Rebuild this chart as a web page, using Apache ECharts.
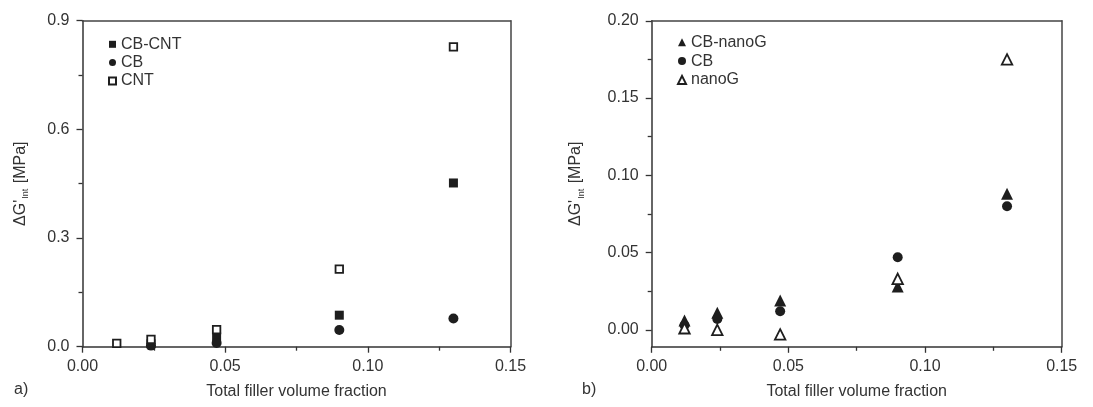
<!DOCTYPE html>
<html>
<head>
<meta charset="utf-8">
<script src="https://cdn.jsdelivr.net/npm/echarts@6/dist/echarts.min.js"></script>
<style>
  html, body { margin: 0; padding: 0; background: #fff; }
  #main { width: 1093px; height: 407px; }
</style>
</head>
<body>
<div id="main"></div>
<script>
// filler volume fractions (same for both panels)
const fractions = [0.012, 0.024, 0.047, 0.090, 0.130]

// a) CB-CNT panel, MPa
const cbCnt = [null, 0.008, 0.027, 0.087, 0.452]
const cbLeft = [null, 0.003, 0.010, 0.046, 0.078]
const cnt = [0.009, 0.020, 0.047, 0.214, 0.828]

// b) CB-nanoG panel, MPa
const cbNanoG = [0.006, 0.011, 0.019, 0.028, 0.088]
const cbRight = [0.003, 0.007, 0.012, 0.047, 0.080]
const nanoG = [0.001, 0.000, -0.003, 0.033, 0.175]

const yTicksRight = [0, 0.05, 0.10, 0.15, 0.20]
const yMinorRight = [0.025, 0.075, 0.125, 0.175]

const ink = '#1e1e1e'
const txt = '#333'

const pairs = (ys) => fractions.map((x, i) => [x, ys[i]]).filter(p => p[1] !== null)

const yName = {
    a: { fontSize: 16, color: txt, lineHeight: 20 },
    s: { fontSize: 9, color: txt, lineHeight: 20, verticalAlign: 'bottom', padding: [0, 1, 0, 1] }
}
const nameText = "{a|ΔG'}{s|Int}{a| [MPa]}"

const baseX = (grid, gapName) => ({
    type: 'value', gridIndex: grid, min: 0, max: 0.15, interval: 0.05,
    name: 'Total filler volume fraction', nameLocation: 'middle', nameGap: gapName,
    nameTextStyle: { fontSize: 16, color: txt },
    axisLine: { onZero: false, lineStyle: { color: '#333', width: 1.5 } },
    axisTick: { length: 6, lineStyle: { color: '#333', width: 1.3 } },
    minorTick: { show: true, splitNumber: 2, length: 4, lineStyle: { color: '#333', width: 1.3 } },
    axisLabel: { fontSize: 16, color: txt, margin: 12, formatter: v => v.toFixed(2) },
    splitLine: { show: false }
})

const frame = (kind, grid, pos) => ({
    type: 'value', gridIndex: grid, position: pos,
    min: kind === 'y' && grid === 1 ? -0.011 : 0,
    max: kind === 'x' ? 0.15 : (grid === 0 ? 0.9 : 0.2),
    axisLine: { show: true, onZero: false, lineStyle: { color: '#444', width: 1.5 } },
    axisTick: { show: false }, axisLabel: { show: false }, splitLine: { show: false }
})

const filled = { color: ink, opacity: 1 }
const hollow = { color: '#fff', borderColor: ink, borderWidth: 1.8, opacity: 1 }

const chart = echarts.init(document.getElementById('main'))
chart.setOption({
    animation: false,
    backgroundColor: '#fff',
    textStyle: { fontFamily: 'Liberation Sans, Arial, sans-serif' },
    grid: [
        { left: 82.5, top: 20.7, width: 428, height: 326 },
        { left: 651.7, top: 20.8, width: 410, height: 326 }
    ],
    legend: [
        {
            data: ['CB-CNT', 'CB', 'CNT'].map(n => ({ name: n })),
            orient: 'vertical', left: 103, top: 30.3, itemWidth: 7, itemHeight: 7,
            itemGap: 0.3, itemTextGap: 11,
            textStyle: { fontSize: 16, color: txt, lineHeight: 18 },
            selectedMode: false
        },
        {
            data: ['CB-nanoG', 'CB ', 'nanoG'].map(n => ({ name: n })),
            orient: 'vertical', left: 672, top: 28.3, itemWidth: 8, itemHeight: 8,
            itemGap: 0.8, itemTextGap: 7,
            textStyle: { fontSize: 16, color: txt, lineHeight: 18 },
            selectedMode: false
        }
    ],
    xAxis: [
        baseX(0, 37),
        baseX(1, 37),
        frame('x', 0, 'top'),
        frame('x', 1, 'top')
    ],
    yAxis: [
        {
            type: 'value', gridIndex: 0, min: 0, max: 0.9, interval: 0.3,
            name: nameText, nameLocation: 'middle', nameGap: 52, nameRotate: 90,
            nameTextStyle: { rich: yName },
            axisLine: { show: true, lineStyle: { color: '#333', width: 1.5 } },
            axisTick: { show: true, length: 6, lineStyle: { color: '#333', width: 1.3 } },
            minorTick: { show: true, splitNumber: 2, length: 4, lineStyle: { color: '#333', width: 1.3 } },
            axisLabel: { fontSize: 16, color: txt, margin: 13, formatter: v => v.toFixed(1) },
            splitLine: { show: false }
        },
        {
            type: 'value', gridIndex: 1, min: -0.011, max: 0.2,
            name: nameText, nameLocation: 'middle', nameGap: 66, nameRotate: 90,
            nameTextStyle: { rich: yName },
            axisLine: { show: true, onZero: false, lineStyle: { color: '#333', width: 1.5 } },
            axisTick: { show: true, length: 6, customValues: yTicksRight, lineStyle: { color: '#333', width: 1.3 } },
            axisLabel: { fontSize: 16, color: txt, margin: 13, customValues: yTicksRight, formatter: v => v.toFixed(2) },
            splitLine: { show: false }
        },
        frame('y', 0, 'right'),
        frame('y', 1, 'right'),
        {
            // minor ticks of panel b
            type: 'value', gridIndex: 1, min: -0.011, max: 0.2, position: 'left',
            axisLine: { show: false },
            axisTick: { show: true, length: 4, customValues: yMinorRight, lineStyle: { color: '#333', width: 1.3 } },
            axisLabel: { show: false }, splitLine: { show: false }
        }
    ],
    series: [
        { name: 'CB-CNT', type: 'scatter', xAxisIndex: 0, yAxisIndex: 0, symbol: 'rect', symbolSize: 9,
          itemStyle: filled, data: pairs(cbCnt) },
        { name: 'CB', type: 'scatter', xAxisIndex: 0, yAxisIndex: 0, symbol: 'circle', symbolSize: 10,
          itemStyle: filled, data: pairs(cbLeft) },
        { name: 'CNT', type: 'scatter', xAxisIndex: 0, yAxisIndex: 0, symbol: 'rect', symbolSize: 7.5,
          itemStyle: hollow, data: pairs(cnt) },
        { name: 'CB-nanoG', type: 'scatter', xAxisIndex: 1, yAxisIndex: 1, symbol: 'triangle', symbolSize: 12,
          itemStyle: filled, data: pairs(cbNanoG) },
        { name: 'CB ', type: 'scatter', xAxisIndex: 1, yAxisIndex: 1, symbol: 'circle', symbolSize: 10,
          itemStyle: filled, data: pairs(cbRight) },
        { name: 'nanoG', type: 'scatter', xAxisIndex: 1, yAxisIndex: 1, symbol: 'triangle', symbolSize: 10.5,
          itemStyle: hollow, data: pairs(nanoG) }
    ],
    graphic: [
        { type: 'text', left: 14, top: 382, style: { text: 'a)', fontSize: 16, fill: txt, fontFamily: 'Liberation Sans, Arial, sans-serif' } },
        { type: 'text', left: 582, top: 382, style: { text: 'b)', fontSize: 16, fill: txt, fontFamily: 'Liberation Sans, Arial, sans-serif' } }
    ]
})
</script>
</body>
</html>
